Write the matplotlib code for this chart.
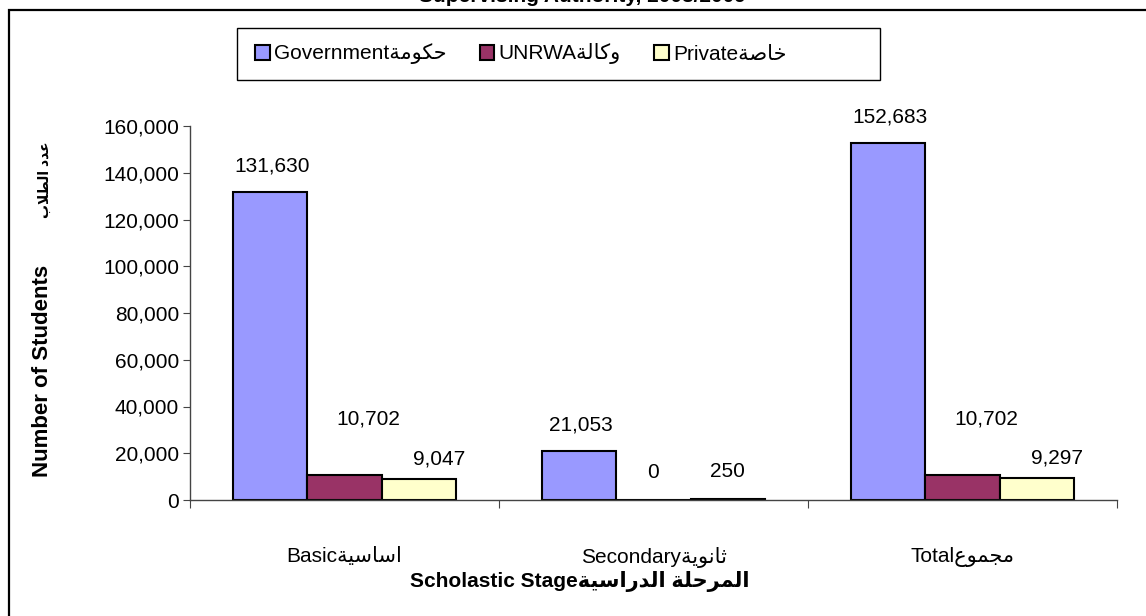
import numpy as np
import matplotlib
matplotlib.use("Agg")
import matplotlib.pyplot as plt
from matplotlib.patches import Rectangle

plt.rcParams['font.family'] = ['Liberation Sans', 'DejaVu Sans']

# data
stages = ["Basic", "Secondary", "Total"]
stages_ar = ["اساسية", "ثانوية", "مجموع"]
authorities = ["Government", "UNRWA", "Private"]
authorities_ar = ["حكومة", "وكالة", "خاصة"]
government = [131630, 21053, 152683]
unrwa = [10702, 0, 10702]
private = [9047, 250, 9297]

colors = ['#9999FF', '#993366', '#FFFFCC']

# minimal arabic joining so the labels come out connected, in visual order
AR_FORMS = {  # isolated form; final +1, initial +2, medial +3
    'ا': 0xFE8D, 'ب': 0xFE8F, 'ة': 0xFE93, 'ث': 0xFE99, 'ج': 0xFE9D, 'ح': 0xFEA1,
    'خ': 0xFEA5, 'د': 0xFEA9, 'ر': 0xFEAD, 'س': 0xFEB1, 'ص': 0xFEB9, 'ط': 0xFEC1,
    'ع': 0xFEC9, 'ك': 0xFED9, 'ل': 0xFEDD, 'م': 0xFEE1, 'ن': 0xFEE5, 'و': 0xFEED,
    'ي': 0xFEF1,
}
RIGHT_ONLY = set('اةدرو')


def shape_ar(text):
    out = []
    n = len(text)
    i = 0
    while i < n:
        c = text[i]
        if c not in AR_FORMS:
            out.append(c)
            i += 1
            continue
        prev_joins = i > 0 and text[i-1] in AR_FORMS and text[i-1] not in RIGHT_ONLY
        if c == 'ل' and i + 1 < n and text[i+1] == 'ا':
            out.append(chr(0xFEFC if prev_joins else 0xFEFB))
            i += 2
            continue
        next_joins = c not in RIGHT_ONLY and i + 1 < n and text[i+1] in AR_FORMS
        base = AR_FORMS[c]
        if prev_joins and next_joins:
            out.append(chr(base + 3))
        elif prev_joins:
            out.append(chr(base + 1))
        elif next_joins:
            out.append(chr(base + 2))
        else:
            out.append(chr(base))
        i += 1
    return ''.join(reversed(out))


W, H = 1146, 616
fig = plt.figure(figsize=(W/100, H/100), dpi=100)

# outer chart frame (right and bottom edges fall outside the picture)
fig.patches.append(Rectangle((9/W, -0.1), 1.2, 1.1 - 10/H, transform=fig.transFigure,
                             fill=False, edgecolor='black', linewidth=1.6))
fig.text(582/W, 1 - 2/H, "Supervising Authority, 2008/2009", ha='center',
         va='baseline', fontsize=15, fontweight='bold')

ax = fig.add_axes([190/W, 1 - 500/H, (1117-190)/W, (500-126)/H])

x = np.arange(len(stages))
width = 0.24
series = [government, unrwa, private]
# label offsets (px) above the bar top, and sideways shift, like the excel layout
label_dy = [26, 56, 20]
label_dx = [2, 24, 20]
bars = []
for k, vals in enumerate(series):
    b = ax.bar(x + (k - 1)*width, vals, width, color=colors[k], edgecolor='black',
               linewidth=1.5, label=authorities[k] + shape_ar(authorities_ar[k]))
    bars.append(b)
    for rect, v in zip(b, vals):
        if v > 1000 or k == 0:
            dx, dy = label_dx[k], label_dy[k]
        else:
            dx, dy = 0, 28
        ax.annotate(f"{v:,}", (rect.get_x() + rect.get_width()/2, v),
                    xytext=(dx*0.72, dy*0.72), textcoords='offset points',
                    ha='center', va='center', fontsize=15)

ax.set_xlim(-0.5, 2.5)
ax.set_ylim(0, 160000)
ax.set_yticks(np.arange(0, 160001, 20000))
ax.set_yticklabels([f"{v:,}" for v in range(0, 160001, 20000)])
ax.set_xticks([-0.5, 0.5, 1.5, 2.5])
ax.set_xticklabels([])
ax.set_xticks(x, minor=True)
ax.set_xticklabels([s + shape_ar(a) for s, a in zip(stages, stages_ar)], minor=True)
ax.tick_params(axis='x', which='major', length=6, direction='out', color='#444444')
ax.tick_params(axis='x', which='minor', length=0, pad=34, labelsize=15)
ax.tick_params(axis='y', length=5, color='#444444', labelsize=15, pad=3)
for s in ['top', 'right']:
    ax.spines[s].set_visible(False)
for s in ['left', 'bottom']:
    ax.spines[s].set_color('#444444')
    ax.spines[s].set_linewidth(1)

fig.text(43/W, 1 - 371/H, "Number of Students", rotation=90, ha='center', va='center',
         fontsize=16, fontweight='bold')
fig.text(45/W, 1 - 180/H, shape_ar("عدد الطلاب"), rotation=90, ha='center', va='center',
         fontsize=10, fontweight='bold')
fig.text(580/W, 1 - 581/H, "Scholastic Stage" + shape_ar("المرحلة الدراسية"),
         ha='center', va='center', fontsize=15, fontweight='bold')

# legend box drawn on its own, entries placed inside it
fig.patches.append(Rectangle((237/W, 1 - 80/H), (880-237)/W, 52/H, transform=fig.transFigure,
                             fill=False, edgecolor='black', linewidth=1))
leg = fig.legend(handles=bars, loc='center left', bbox_to_anchor=(255/W, 1 - 54/H), ncol=3,
                 fontsize=15, frameon=False, handlelength=0.7, handleheight=0.7,
                 handletextpad=0.2, columnspacing=1.6, borderpad=0, borderaxespad=0)

fig.savefig("out.png", dpi=100)
